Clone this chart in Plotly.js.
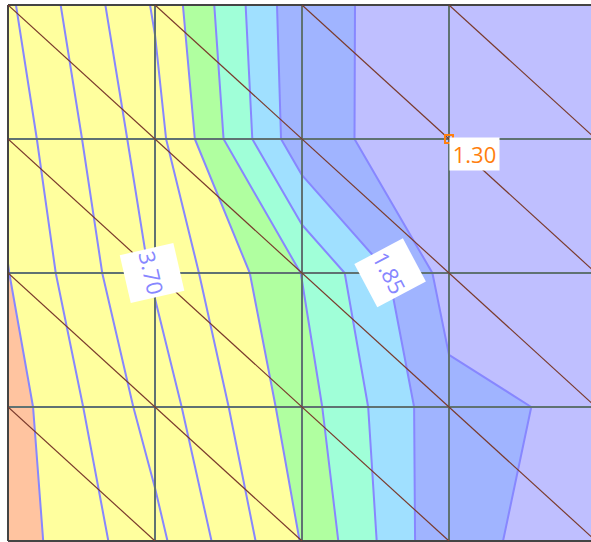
<!DOCTYPE html>
<html>
<head>
<meta charset="utf-8">
<script src="https://cdn.plot.ly/plotly-3.0.1.min.js"></script>
<style>html,body{margin:0;padding:0;overflow:hidden;background:#fff}#plot{width:591px;height:542px}</style>
</head>
<body>
<div id="plot"></div>
<script>
// carpet grid parameters
var aVals = [0, 1, 2, 3, 4];
var bVals = [0, 1, 2, 3, 4];
// z values at grid nodes, rows = b, columns = a
var zRow0 = [4.506, 3.289, 1.555, 1.347, 1.25];
var zRow1 = [4.676, 3.473, 1.58, 1.30, 1.25];
var zRow2 = [4.82, 3.65, 2.58, 1.34, 1.30];
var zRow3 = [4.995, 3.91, 2.753, 1.569, 1.41];
var zRow4 = [5.01, 4.175, 2.94, 1.523, 1.406];
// contour levels
var levelStart = 1.48, levelEnd = 4.82, levelSize = 0.37;
// band colours, lowest to highest
var bandColors = ['#bfbfff', '#a0b4ff', '#a0e0ff', '#a0ffd8', '#b0ffa0',
                  '#ffff9e', '#ffff9e', '#ffff9e', '#ffff9e', '#ffff9e', '#ffc4a0'];
// triangulation diagonals (a - b offsets)
var diagOffsets = [-3, -2, -1, 0, 1, 2, 3];
// probe point
var probeA = [3], probeB = [1], probeText = ['1.30'];
// contour labels
var labelText = ['3.70', '1.85'];
var labelA = [0.98, 2.60];
var labelB = [2.0, 2.0];
var labelAngle = [77, 62];

var zGrid = [zRow0, zRow1, zRow2, zRow3, zRow4];
var xGrid = bVals.map(function () { return aVals.slice(); });
var yGrid = bVals.map(function (b) { return aVals.map(function () { return b; }); });

var nb = bandColors.length - 1;
var colorscale = bandColors.map(function (c, k) { return [k / nb, c]; });

var axisStyle = {
  tickmode: 'linear', tick0: 0, dtick: 1,
  showticklabels: 'none', smoothing: 0,
  gridcolor: '#5f7272', gridwidth: 2,
  linecolor: '#4e7e7e', linewidth: 2.5,
  startline: true, endline: true,
  minorgridcount: 0, title: {text: ''}
};

var traces = [];
traces.push({
  type: 'carpet', carpet: 'c1',
  a: aVals, b: bVals, x: xGrid, y: yGrid,
  aaxis: axisStyle, baxis: axisStyle
});
traces.push({
  type: 'contourcarpet', carpet: 'c1',
  a: aVals, b: bVals, z: zGrid,
  autocontour: false,
  contours: {start: levelStart, end: levelEnd, size: levelSize, coloring: 'fill'},
  colorscale: colorscale,
  line: {color: '#8787ff', width: 2, smoothing: 0},
  showscale: false
});
var aMin = aVals[0], aMax = aVals[aVals.length - 1];
var bMin = bVals[0], bMax = bVals[bVals.length - 1];
diagOffsets.forEach(function (c) {
  var a0 = Math.max(aMin, bMin + c), a1 = Math.min(aMax, bMax + c);
  if (a1 <= a0) return;
  traces.push({
    type: 'scattercarpet', carpet: 'c1',
    a: [a0, a1], b: [a0 - c, a1 - c],
    mode: 'lines', line: {color: '#7a3a2c', width: 1.2},
    hoverinfo: 'skip', showlegend: false
  });
});
traces.push({
  type: 'scattercarpet', carpet: 'c1',
  a: probeA, b: probeB, mode: 'markers',
  marker: {symbol: 'square-open', color: '#ff7f0e', size: 8, line: {width: 2}},
  showlegend: false
});

var annotations = [];
for (var i = 0; i < labelText.length; i++) {
  annotations.push({
    xref: 'x', yref: 'y', x: labelA[i], y: labelB[i],
    text: labelText[i], showarrow: false, textangle: labelAngle[i],
    bgcolor: '#ffffff', font: {family: 'Open Sans', size: 22, color: '#8787ff'},
    height: 50, borderpad: 2
  });
}
annotations.push({
  xref: 'x', yref: 'y', x: probeA[0], y: probeB[0],
  text: probeText[0], showarrow: false, xanchor: 'left', yanchor: 'top',
  yshift: 2, bgcolor: '#ffffff', font: {family: 'Open Sans', size: 22, color: '#ff7f0e'},
  width: 45, height: 28, borderpad: 2
});

var layout = {
  width: 591, height: 542,
  margin: {l: 0, r: 0, t: 0, b: 0, pad: 0},
  paper_bgcolor: '#ffffff', plot_bgcolor: '#ffffff',
  showlegend: false,
  xaxis: {range: [-8 / 147, 583 / 147], visible: false, fixedrange: true},
  yaxis: {range: [537 / 134, -5 / 134], visible: false, fixedrange: true},
  annotations: annotations
};
Plotly.newPlot('plot', traces, layout, {displayModeBar: false, staticPlot: true});
</script>
</body>
</html>
